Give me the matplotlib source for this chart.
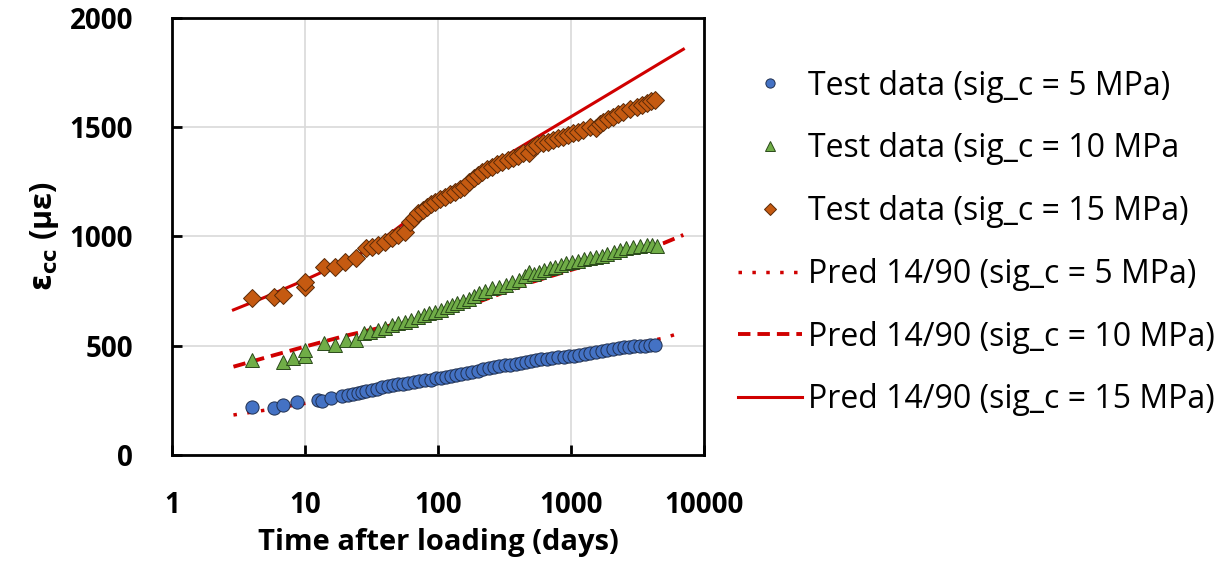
import matplotlib
matplotlib.use("Agg")
from matplotlib import pyplot as plt

plt.rcParams['font.family'] = ['Open Sans', 'DejaVu Sans']

# test data, sig_c = 5 MPa
t5 = [4.0, 5.9, 6.8, 8.7, 12.5, 13.5, 15.6, 19, 21, 23, 25, 27, 29, 32, 35, 38, 42, 46, 50, 55, 60, 66,
      72, 80, 88, 96, 105, 115, 125, 137, 150, 165, 180, 200, 220, 240, 265, 290, 320, 350, 385, 420, 460,
      500, 550, 600, 660, 720, 800, 880, 960, 1050, 1150, 1270, 1400, 1550, 1700, 1880, 2070, 2280, 2500,
      2750, 3000, 3300, 3600, 3950, 4300]
e5 = [221, 214, 229, 241, 252, 248, 259, 272, 276, 280, 284, 288, 292, 298, 304, 309, 314, 318, 323, 327,
      330, 334, 338, 342, 345, 350, 354, 358, 362, 366, 370, 374, 380, 386, 393, 398, 401, 405, 410, 414,
      418, 422, 427, 431, 434, 438, 441, 444, 447, 450, 452, 455, 459, 464, 468, 472, 476, 480, 484, 488,
      492, 495, 497, 499, 501, 503, 505]
# test data, sig_c = 10 MPa
t10 = [4.0, 6.8, 8.1, 10, 10, 14, 16.9, 20.5, 24.3, 28, 31, 35.5, 40, 45, 50, 56.5, 63, 71, 78, 86, 95,
       105, 116, 128, 140, 155, 170, 186, 203, 225, 256, 290, 323, 360, 408, 450, 486, 530, 579, 630, 690,
       760, 840, 921, 1020, 1120, 1250, 1380, 1530, 1700, 1880, 2100, 2340, 2600, 2950, 3300, 3720, 4100,
       4430]
e10 = [435, 427, 442, 455, 480, 511, 503, 526, 526, 557, 562, 572, 582, 595, 602, 610, 620, 633, 640, 650,
       656, 665, 676, 686, 695, 705, 716, 728, 740, 752, 763, 770, 778, 790, 801, 820, 839, 830, 839, 848,
       856, 862, 868, 877, 884, 890, 895, 900, 906, 912, 918, 928, 938, 945, 953, 958, 961, 962, 958]
# test data, sig_c = 15 MPa
t15 = [4.0, 5.9, 6.8, 10, 10, 14, 16.9, 19.9, 24.3, 29, 32, 35.5, 40, 45, 50, 56.5, 62, 66, 71, 77, 83,
       89, 95, 104, 113, 124, 135, 146, 157, 171, 186, 200, 215, 235, 256, 280, 305, 335, 364, 400, 433,
       486, 515, 560, 613, 670, 731, 800, 869, 950, 1035, 1130, 1232, 1400, 1556, 1650, 1745, 1900, 2078,
       2270, 2477, 2800, 3129, 3400, 3724, 4000, 4300]
e15 = [717, 725, 732, 770, 793, 862, 862, 885, 900, 946, 950, 961, 975, 992, 1005, 1022, 1068, 1085, 1106,
       1120, 1136, 1148, 1159, 1170, 1182, 1194, 1205, 1216, 1228, 1248, 1266, 1282, 1297, 1308, 1319,
       1330, 1342, 1350, 1358, 1368, 1380, 1380, 1411, 1418, 1426, 1434, 1442, 1450, 1457, 1464, 1472,
       1480, 1487, 1500, 1495, 1515, 1526, 1537, 1548, 1560, 1571, 1582, 1594, 1602, 1610, 1618, 1625]

# predictions 14/90
tp5 = [2.9, 5, 10, 20, 50, 100, 200, 500, 1000, 2000, 5000, 6500]
p5 = [183, 205, 236, 268, 320, 358, 390, 430, 458, 488, 535, 557]
tp10 = [2.9, 5, 10, 20, 30, 50, 100, 200, 300, 500, 1000, 2000, 5000, 7000]
p10 = [404, 445, 496, 545, 570, 600, 641, 700, 740, 790, 847, 900, 970, 1007]
tp15 = [2.9, 5, 10, 20, 30, 50, 100, 200, 500, 1000, 2000, 5000, 7000]
p15 = [664, 722, 801, 885, 940, 1040, 1182, 1292, 1438, 1548, 1658, 1804, 1857]

red = '#D00000'
fig = plt.figure(figsize=(12.23, 5.69), dpi=100)
ax = fig.add_axes([0.1406, 0.2004, 0.4350, 0.7680])

ax.plot(t5, e5, 'o', ms=9.5, mfc='#4472C4', mec='#1F2F4F', mew=0.7, ls='none',
        label='Test data (sig_c = 5 MPa)', zorder=3)
ax.plot(t10, e10, '^', ms=10.5, mfc='#70AD47', mec='#2A4A1A', mew=0.7, ls='none',
        label='Test data (sig_c = 10 MPa', zorder=3)
ax.plot(t15, e15, 'D', ms=9, mfc='#C55A11', mec='#5A2A08', mew=0.7, ls='none',
        label='Test data (sig_c = 15 MPa)', zorder=3)
ax.plot(tp5, p5, color=red, lw=2.5, ls=(0, (1, 3)), label='Pred 14/90 (sig_c = 5 MPa)', zorder=2)
ax.plot(tp10, p10, color=red, lw=2.8, ls=(0, (3.2, 1.8)), label='Pred 14/90 (sig_c = 10 MPa)', zorder=2)
ax.plot(tp15, p15, color=red, lw=2.2, ls='-', label='Pred 14/90 (sig_c = 15 MPa)', zorder=2)

ax.set_xscale('log')
ax.set_xlim(1, 10000)
ax.set_ylim(0, 2000)
ax.set_xticks([1, 10, 100, 1000, 10000])
ax.set_xticklabels(['1', '10', '100', '1000', '10000'])
ax.set_yticks([0, 500, 1000, 1500, 2000])
ax.minorticks_off()
ax.grid(True, color='#D9D9D9', lw=1.2)
ax.set_axisbelow(True)
for s in ax.spines.values():
    s.set_linewidth(2)
ax.tick_params(direction='in', length=7, width=2, labelsize=20)
ax.tick_params(axis='x', pad=26)
ax.tick_params(axis='y', pad=28)
for lab in ax.get_yticklabels() + ax.get_xticklabels():
    lab.set_fontweight('bold')

ax.set_xlabel('Time after loading (days)', fontsize=21, fontweight='bold', labelpad=6)
ax.set_ylabel(r'$\mathbf{\varepsilon_{cc}}$ (με)', fontsize=22, fontweight='bold', labelpad=6)

ax.legend(loc='upper left', bbox_to_anchor=(0.593, 0.9), bbox_transform=fig.transFigure,
          frameon=False, fontsize=23, handlelength=2.0, handletextpad=0.2,
          labelspacing=0.93, markerscale=0.7, borderaxespad=0)

plt.savefig('out.png', dpi=100)
